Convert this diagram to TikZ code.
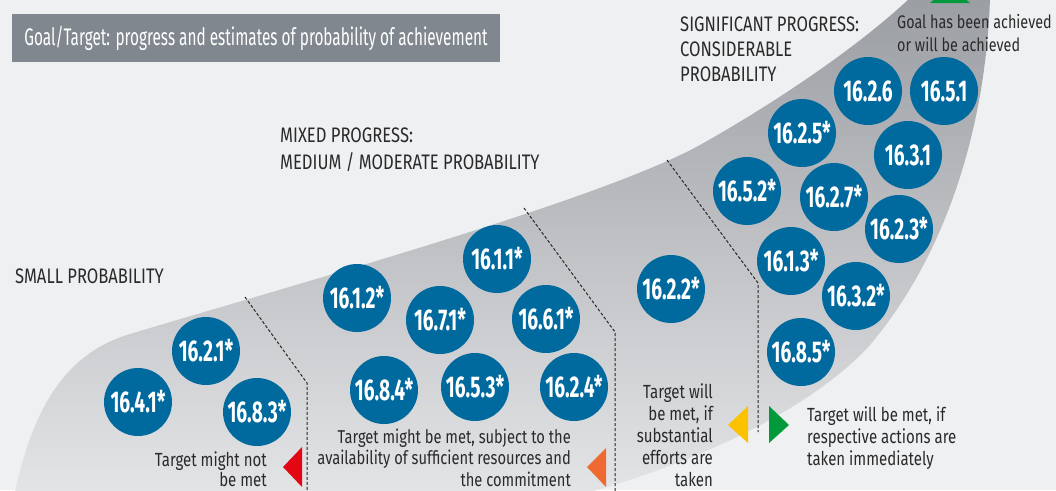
\documentclass[tikz,border=0pt]{standalone}
\usepackage{fontspec}
\setmainfont{Fira Sans}[FakeStretch=0.79]
\newfontfamily\catfont{Fira Sans}[FakeStretch=0.79]
\newfontfamily\circfont{Fira Sans}[FakeStretch=0.64]
\newfontfamily\titlefont{Fira Sans}[FakeStretch=0.64]
\definecolor{bg}{HTML}{EFF0F2}
\definecolor{bandtop}{HTML}{9B9EA3}
\definecolor{bandbot}{HTML}{E3E4E6}
\definecolor{circblue}{HTML}{00699D}
\definecolor{titlegray}{HTML}{81878E}
\definecolor{labc}{HTML}{2A2A2A}
\definecolor{tred}{HTML}{E30613}
\definecolor{torange}{HTML}{EE6A30}
\definecolor{tyellow}{HTML}{FCC200}
\definecolor{tgreen}{HTML}{009A3A}
\tikzset{
  goal/.style={circle, fill=circblue, minimum size=68pt, inner sep=0pt, text=white,
    font=\circfont\bfseries\fontsize{30}{30}\selectfont},
  cat/.style={inner sep=0pt, text=labc, font=\catfont\fontsize{21}{25}\selectfont},
  lab/.style={inner sep=0pt, text=labc, font=\fontsize{19}{21.8}\selectfont},
  sep/.style={draw=black!85, line width=1pt, dash pattern=on 3pt off 2pt},
  titlebox/.style={fill=titlegray, minimum width=488pt, minimum height=48pt, inner sep=0pt,
    text=white, font=\titlefont\fontsize{24}{26}\selectfont}
}
\begin{document}
\begin{tikzpicture}[x=1pt,y=-1pt]
\useasboundingbox (0,0) rectangle (1056,490);
\fill[bg] (0,0) rectangle (1056,490);
\begin{scope}
\clip (0,0) rectangle (1056,490);
\shade[top color=bandtop, bottom color=bandbot]
  (15,492) .. controls (35,400) and (70,352) .. (130,334)
  .. controls (300,283) and (600,200) .. (700,145)
  .. controls (780,100) and (860,45) .. (910,-2)
  -- (990,-2)
  .. controls (986,120) and (950,250) .. (870,345)
  .. controls (820,400) and (720,455) .. (590,492)
  -- cycle;
\fill[tgreen] (930,3) -- (970,3) -- (950,-14) -- cycle;
\end{scope}

% title
\node[titlebox] (title) at (256,38) {Goal/Target: progress and estimates of probability of achievement};

% category labels
\node[cat, anchor=base west] (small) at (15,283) {SMALL PROBABILITY};
\node[cat, anchor=north west, align=left, font=\catfont\fontsize{21}{27}\selectfont] (mixed) at (280,127.5) {MIXED PROGRESS:\\MEDIUM / MODERATE PROBABILITY};
\node[cat, anchor=north west, align=left] (signif) at (680,16.5) {SIGNIFICANT PROGRESS:\\CONSIDERABLE\\PROBABILITY};
\node[lab, anchor=north west, align=left, font=\fontsize{18.2}{23}\selectfont] (achieved) at (897,14.6) {Goal has been achieved\\or will be achieved};

% dashed separators
\coordinate (d1a) at (245,297); \coordinate (d1b) at (307,383); \coordinate (d1c) at (307,492);
\coordinate (d2a) at (524,208); \coordinate (d2b) at (615,332); \coordinate (d2c) at (615,492);
\coordinate (d3a) at (667,160); \coordinate (d3b) at (758,283); \coordinate (d3c) at (758,432);
\draw[sep] (d1a) -- (d1b) -- (d1c);
\draw[sep] (d2a) -- (d2b) -- (d2c);
\draw[sep] (d3a) -- (d3b) -- (d3c);

% targets
\node[goal] (t1641) at (138,402) {16.4.1*};
\node[goal] (t1621) at (206,351) {16.2.1*};
\node[goal] (t1683) at (257,412) {16.8.3*};
\node[goal] (t1612) at (357,298) {16.1.2*};
\node[goal] (t1611) at (497,259) {16.1.1*};
\node[goal] (t1671) at (440,320) {16.7.1*};
\node[goal] (t1661) at (546,319) {16.6.1*};
\node[goal] (t1684) at (384,390) {16.8.4*};
\node[goal] (t1653) at (475,387) {16.5.3*};
\node[goal] (t1624) at (574,387) {16.2.4*};
\node[goal] (t1622) at (671,289) {16.2.2*};
\node[goal] (t1626) at (868,91) {16.2.6};
\node[goal] (t1651) at (944,91) {16.5.1};
\node[goal] (t1625) at (802,133) {16.2.5*};
\node[goal] (t1631) at (908,155) {16.3.1};
\node[goal] (t1652) at (747,191) {16.5.2*};
\node[goal] (t1627) at (834,197) {16.2.7*};
\node[goal] (t1623) at (899,229) {16.2.3*};
\node[goal] (t1613) at (791,261) {16.1.3*};
\node[goal] (t1632) at (856,296) {16.3.2*};
\node[goal] (t1685) at (801,352) {16.8.5*};

% bottom labels
\node[lab, anchor=north east, align=right, font=\fontsize{19}{20.5}\selectfont] (notmet) at (267,451) {Target might not\\be met};
\node[lab, anchor=north east, align=right, font=\fontsize{18.6}{21.5}\selectfont] (mightmet) at (571,428.5) {Target might be met, subject to the\\availability of sufficient resources and\\the commitment};
\node[lab, anchor=north east, align=right, font=\fontsize{19}{22}\selectfont] (effort) at (713,383.5) {Target will\\be met, if\\substantial\\efforts are\\taken};
\node[lab, anchor=north west, align=left] (immed) at (807,406.5) {Target will be met, if\\respective actions are\\taken immediately};

% arrow markers
\fill[tred] (283,467) -- (302,447) -- (302,487) -- cycle;
\fill[torange] (587,467) -- (606,448) -- (606,487) -- cycle;
\fill[tyellow] (728,425) -- (748,406) -- (748,443) -- cycle;
\fill[tgreen] (789,425) -- (769,406) -- (769,443) -- cycle;
\end{tikzpicture}
\end{document}
